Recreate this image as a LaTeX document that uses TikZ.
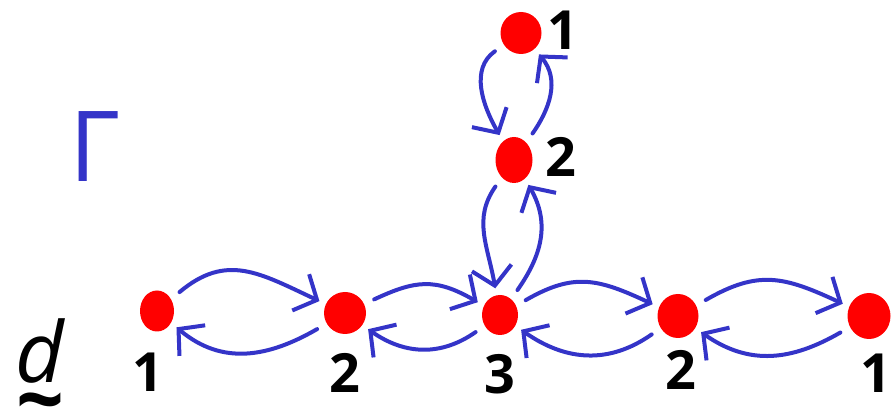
\documentclass[tikz,border=0pt]{standalone}
\usepackage{fontspec}
\setmainfont{Open Sans}
\usetikzlibrary{shapes.geometric,arrows.meta}
\definecolor{penblue}{RGB}{52,52,200}
\definecolor{dotred}{RGB}{255,0,0}
\tikzset{
  vertex/.style={ellipse,fill=dotred,inner sep=0pt,minimum width=#1},
  vertex/.default=38pt,
  num/.style={inner sep=0pt,font=\bfseries\fontsize{54}{54}\selectfont},
  arr/.style={draw=penblue,line width=4pt,line cap=round,line join=round,
    >={Straight Barb[length=18pt,width=40pt]},->,
    shorten <=11pt,shorten >=7pt}
}
\begin{document}
\begin{tikzpicture}[x=1pt,y=-1pt]
\useasboundingbox (0,0) rectangle (892,419);

% vertices of the tree
\node[vertex=34pt,minimum height=41pt] (a1) at (157,311) {};
\node[vertex=42pt,minimum height=42pt] (a2) at (345,313) {};
\node[vertex=36pt,minimum height=40pt] (c)  at (500,315) {};
\node[vertex=41pt,minimum height=44pt] (b2) at (678,316) {};
\node[vertex=43pt,minimum height=46pt] (b1) at (869,316) {};
\node[vertex=37pt,minimum height=46pt] (u2) at (514,160) {};
\node[vertex=41pt,minimum height=42pt] (u1) at (521,33) {};

% vertex labels
\node[num] (la1) at (148,372) {1};
\node[num] (la2) at (345,373) {2};
\node[num] (lc)  at (500,374) {3};
\node[num] (lb2) at (681,370) {2};
\node[num] (lb1) at (876,373) {1};
\node[num] (lu1) at (563,30) {1};
\node[num] (lu2) at (561,157) {2};

% graph name and dimension vector (d with a tilde below)
\node[inner sep=0pt,text=penblue,font=\fontsize{98}{98}\selectfont] (gam) at (95,147) {Γ};
\node[inner sep=0pt,anchor=north,align=center,font=\fontsize{84}{84}\selectfont]
  (dv) at (40,318) {\itshape d\\[-37pt]\bfseries\textasciitilde};

% arrows along the horizontal arm
\draw[arr] (a1) to[out=40,in=155,looseness=1.2] (a2);
\draw[arr] (a2) to[out=210,in=-40,looseness=1.1] (a1);
\draw[arr] (a2) to[out=25,in=150,looseness=1.2] (c);
\draw[arr] (c)  to[out=215,in=-35,looseness=1.1] (a2);
\draw[arr] (c)  to[out=30,in=155,looseness=1.2] (b2);
\draw[arr] (b2) to[out=215,in=-35,looseness=1.1] (c);
\draw[arr] (b2) to[out=30,in=155,looseness=1.2] (b1);
\draw[arr] (b1) to[out=210,in=-35,looseness=1.1] (b2);

% arrows along the vertical arm
\draw[arr] (u2) to[out=235,in=100,looseness=1.1] (c);
\draw[arr] (c)  to[out=55,in=-60,looseness=1.1] (u2);
\draw[arr] (u1) to[out=215,in=120,looseness=1.1] (u2);
\draw[arr] (u2) to[out=55,in=-50,looseness=1.1] (u1);
\end{tikzpicture}
\end{document}
